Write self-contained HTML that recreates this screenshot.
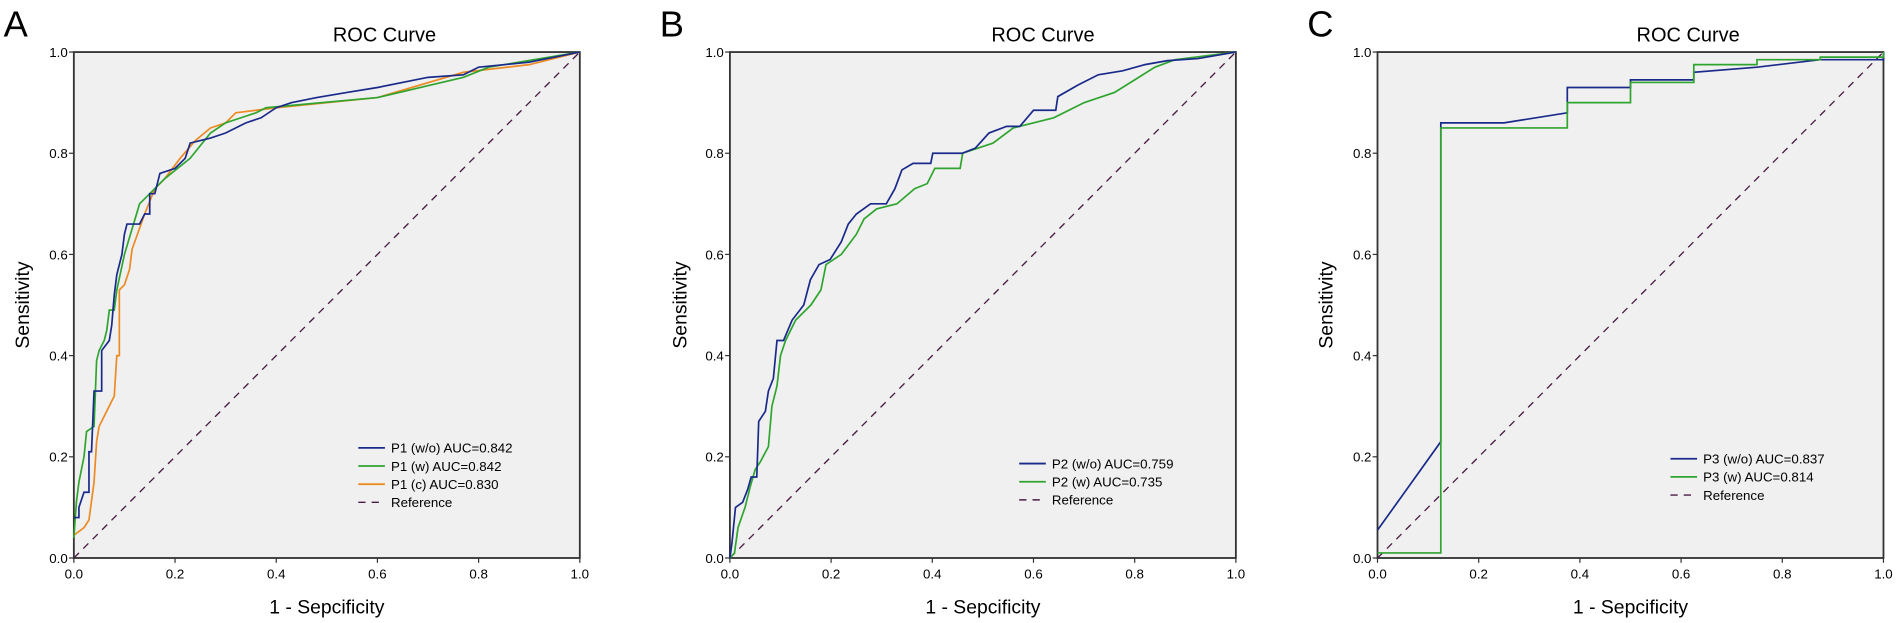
<!DOCTYPE html>
<html><head><meta charset="utf-8"><style>
html,body{margin:0;padding:0;background:#fff;}
svg{display:block;font-family:"Liberation Sans",Arial,sans-serif;}
</style></head><body>
<svg id="s" width="1898" height="623" viewBox="0 0 1568 514.7" preserveAspectRatio="none" xmlns="http://www.w3.org/2000/svg">
<g fill="#000">
<text x="3" y="30" font-size="30">A</text>
<text x="545" y="30" font-size="30">B</text>
<text x="1080" y="30" font-size="30">C</text>
<text x="275" y="34.5" font-size="16.5">ROC Curve</text>
<text x="819" y="34.5" font-size="16.5">ROC Curve</text>
<text x="1352" y="34.5" font-size="16.5">ROC Curve</text>
<text x="270" y="507" font-size="16" text-anchor="middle">1 - Sepcificity</text>
<text x="812" y="507" font-size="16" text-anchor="middle">1 - Sepcificity</text>
<text x="1347" y="507" font-size="16" text-anchor="middle">1 - Sepcificity</text>
<text transform="translate(24,252) rotate(-90)" font-size="16" text-anchor="middle">Sensitivity</text>
<text transform="translate(567,252) rotate(-90)" font-size="16" text-anchor="middle">Sensitivity</text>
<text transform="translate(1101,252) rotate(-90)" font-size="16" text-anchor="middle">Sensitivity</text>
</g>
<g id="plots"></g>
</svg>
<script>
var NS="http://www.w3.org/2000/svg";
var g=document.getElementById('plots');
function el(t,a,txt){var e=document.createElementNS(NS,t);for(var k in a)e.setAttribute(k,a[k]);if(txt!=null)e.textContent=txt;g.appendChild(e);return e;}
var BL="#1a2a8a",GR="#2fa52f",OR="#ec8a24";
function plot(x0,series,leg){
 var x1=x0+418,y0=43,y1=461,W=418,H=418;
 el('rect',{x:x0,y:y0,width:W,height:H,fill:'#f0f0f0',stroke:'#333','stroke-width':1.5});
 el('line',{x1:x0,y1:y1,x2:x1,y2:y0,stroke:'#4a1a45','stroke-width':1.1,'stroke-dasharray':'6,5'});
 for(var i=0;i<=5;i++){
  var v=(i*0.2).toFixed(1);
  var yy=y1-i*H/5, xx=x0+i*W/5;
  el('line',{x1:x0-4,y1:yy,x2:x0,y2:yy,stroke:'#333'});
  el('text',{x:x0-5,y:yy+4,'font-size':11,'text-anchor':'end'},v);
  el('line',{x1:xx,y1:y1,x2:xx,y2:y1+4,stroke:'#333'});
  el('text',{x:xx,y:y1+17,'font-size':11,'text-anchor':'middle'},v);
 }
 series.forEach(function(s){
  var p=s.d.map(function(q){return (x0+q[0]*W).toFixed(1)+','+(y1-q[1]*H).toFixed(1);}).join(' ');
  el('polyline',{points:p,fill:'none',stroke:s.c,'stroke-width':1.4});
 });
 leg.items.forEach(function(it,i){
  var y=leg.y+i*15;
  el('line',{x1:leg.x,y1:y,x2:leg.x+22,y2:y,stroke:it[1],'stroke-width':it[2]?1.2:1.5,'stroke-dasharray':it[2]?'6,5':''});
  el('text',{x:leg.x+27,y:y+4,'font-size':11},it[0]);
 });
}
var A_b=[[0,0.08],[0.01,0.08],[0.01,0.1],[0.02,0.13],[0.03,0.13],[0.03,0.21],[0.035,0.21],[0.04,0.33],[0.055,0.33],[0.055,0.41],[0.07,0.43],[0.075,0.46],[0.08,0.52],[0.085,0.56],[0.095,0.6],[0.1,0.64],[0.105,0.66],[0.13,0.66],[0.14,0.68],[0.15,0.68],[0.15,0.72],[0.16,0.72],[0.17,0.76],[0.2,0.77],[0.22,0.79],[0.23,0.82],[0.27,0.83],[0.3,0.84],[0.34,0.86],[0.37,0.87],[0.4,0.89],[0.43,0.9],[0.48,0.91],[0.54,0.92],[0.6,0.93],[0.7,0.95],[0.77,0.955],[0.8,0.97],[0.9,0.98],[1,1]];
var A_g=[[0,0.04],[0.005,0.11],[0.01,0.15],[0.02,0.2],[0.025,0.25],[0.04,0.26],[0.045,0.39],[0.05,0.41],[0.06,0.43],[0.065,0.45],[0.07,0.49],[0.08,0.49],[0.085,0.53],[0.1,0.6],[0.13,0.7],[0.15,0.72],[0.18,0.75],[0.23,0.79],[0.27,0.84],[0.3,0.86],[0.36,0.88],[0.38,0.89],[0.6,0.91],[0.77,0.95],[0.82,0.97],[1,1]];
var A_o=[[0,0.045],[0.02,0.06],[0.03,0.075],[0.04,0.15],[0.045,0.23],[0.05,0.26],[0.08,0.32],[0.085,0.4],[0.09,0.4],[0.09,0.53],[0.1,0.54],[0.11,0.57],[0.115,0.61],[0.14,0.68],[0.16,0.73],[0.18,0.75],[0.21,0.79],[0.24,0.825],[0.27,0.85],[0.3,0.86],[0.32,0.88],[0.4,0.89],[0.6,0.91],[0.77,0.96],[0.9,0.975],[1,1]];
var B_b=[[0,0],[0.004,0.03],[0.011,0.1],[0.025,0.11],[0.035,0.135],[0.042,0.16],[0.053,0.16],[0.057,0.27],[0.07,0.29],[0.076,0.33],[0.086,0.355],[0.093,0.43],[0.106,0.43],[0.123,0.47],[0.146,0.5],[0.159,0.55],[0.176,0.58],[0.198,0.59],[0.22,0.625],[0.234,0.66],[0.25,0.68],[0.278,0.7],[0.309,0.7],[0.326,0.73],[0.34,0.767],[0.362,0.78],[0.397,0.78],[0.401,0.8],[0.459,0.8],[0.485,0.81],[0.512,0.84],[0.547,0.853],[0.573,0.853],[0.6,0.885],[0.644,0.885],[0.648,0.912],[0.688,0.935],[0.728,0.955],[0.776,0.963],[0.82,0.975],[0.865,0.983],[0.925,0.987],[1,1]];
var B_g=[[0,0],[0.009,0.01],[0.016,0.06],[0.03,0.1],[0.04,0.14],[0.05,0.175],[0.06,0.19],[0.076,0.22],[0.083,0.3],[0.093,0.34],[0.1,0.4],[0.11,0.43],[0.13,0.47],[0.16,0.5],[0.18,0.53],[0.19,0.58],[0.22,0.6],[0.25,0.64],[0.265,0.67],[0.29,0.69],[0.33,0.7],[0.365,0.73],[0.39,0.74],[0.405,0.77],[0.455,0.77],[0.46,0.8],[0.52,0.82],[0.56,0.85],[0.64,0.87],[0.7,0.9],[0.76,0.92],[0.8,0.945],[0.84,0.97],[0.88,0.985],[1,1]];
var C_b=[[0,0.055],[0.125,0.23],[0.125,0.86],[0.25,0.86],[0.375,0.88],[0.375,0.93],[0.5,0.93],[0.5,0.945],[0.625,0.945],[0.625,0.96],[0.75,0.97],[0.875,0.985],[1,0.985],[1,1]];
var C_g=[[0,0.01],[0.125,0.01],[0.125,0.85],[0.375,0.85],[0.375,0.9],[0.5,0.9],[0.5,0.94],[0.625,0.94],[0.625,0.975],[0.75,0.975],[0.75,0.985],[0.875,0.985],[0.875,0.99],[1,0.99],[1,1]];
plot(61,[{d:A_o,c:OR},{d:A_g,c:GR},{d:A_b,c:BL}],{x:296,y:370,items:[["P1 (w/o) AUC=0.842",BL],["P1 (w) AUC=0.842",GR],["P1 (c) AUC=0.830",OR],["Reference","#4a1a45",1]]});
plot(603,[{d:B_g,c:GR},{d:B_b,c:BL}],{x:842,y:383,items:[["P2 (w/o) AUC=0.759",BL],["P2 (w) AUC=0.735",GR],["Reference","#4a1a45",1]]});
plot(1138,[{d:C_b,c:BL},{d:C_g,c:GR}],{x:1380,y:379,items:[["P3 (w/o) AUC=0.837",BL],["P3 (w) AUC=0.814",GR],["Reference","#4a1a45",1]]});
</script>
</body></html>
